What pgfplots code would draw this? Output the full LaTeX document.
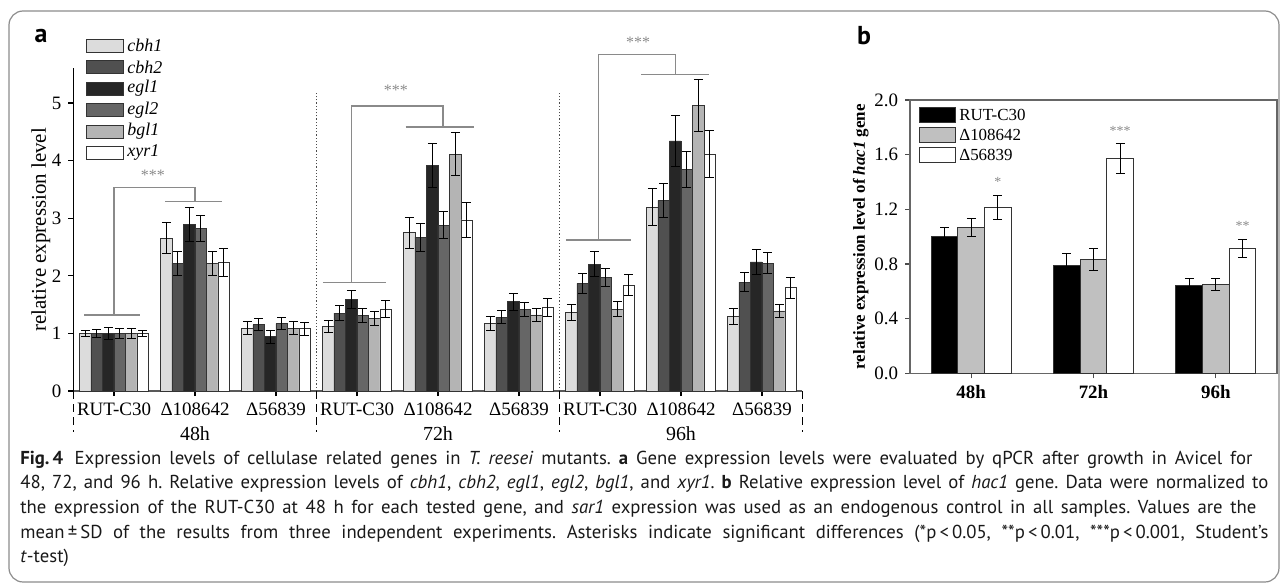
\documentclass[border=0pt]{standalone}
\usepackage{fontspec}
\setmainfont{Liberation Serif}
\newfontfamily\capfont{PT Sans}
\usepackage{pgfplots}
\pgfplotsset{compat=1.18}
\frenchspacing

\definecolor{gA}{HTML}{DCDCDC}
\definecolor{gB}{HTML}{505050}
\definecolor{gC}{HTML}{262626}
\definecolor{gD}{HTML}{666666}
\definecolor{gE}{HTML}{B4B4B4}
\definecolor{gF}{HTML}{FFFFFF}
\definecolor{bG}{HTML}{C0C0C0}
\definecolor{edge}{HTML}{333333}
\definecolor{brk}{HTML}{8A8A8A}

\pgfplotsset{
  eb/.style={error bars/.cd, y dir=both, y explicit,
    error bar style={black, line width=0.5bp},
    error mark options={rotate=90, mark size=2.2bp, black, line width=0.5bp}},
}

\begin{document}
\begin{tikzpicture}
\useasboundingbox (0bp,0bp) rectangle (642bp,-292bp);

% ---------- panel a ----------
\begin{axis}[
  at={(36.75bp,-195.5bp)}, anchor=south west,
  scale only axis, width=364.5bp, height=161.3bp,
  xmin=-0.5, xmax=8.5, ymin=0, ymax=5.6,
  axis x line*=bottom, axis y line*=left,
  x axis line style={-, line width=1.2bp, black!65},
  y axis line style={-, line width=0.8bp, black},
  xtick={0,...,8},
  xticklabels={RUT-C30,Δ108642,Δ56839,RUT-C30,Δ108642,Δ56839,RUT-C30,Δ108642,Δ56839},
  ytick={0,...,5},
  tick align=outside, major tick length=2.5bp,
  tick style={black, line width=0.6bp},
  ticklabel style={font=\fontsize{9.5}{10}\selectfont},
  /pgf/number format/assume math mode=true,
  ylabel={relative expression level},
  ylabel style={font=\fontsize{10.5}{11}\selectfont},
  ylabel shift=-6bp,
  ybar=0pt, bar width=5.75bp,
  clip=false,
]
\addplot[fill=gA, draw=edge, line width=0.4bp, eb] coordinates {
  (0,1.00) +- (0,0.05) (1,2.65) +- (0,0.27) (2,1.09) +- (0,0.11)
  (3,1.12) +- (0,0.11) (4,2.75) +- (0,0.27) (5,1.17) +- (0,0.12)
  (6,1.37) +- (0,0.14) (7,3.19) +- (0,0.32) (8,1.29) +- (0,0.14)};
\addplot[fill=gB, draw=edge, line width=0.4bp, eb] coordinates {
  (0,1.00) +- (0,0.07) (1,2.22) +- (0,0.21) (2,1.15) +- (0,0.10)
  (3,1.35) +- (0,0.13) (4,2.67) +- (0,0.24) (5,1.28) +- (0,0.11)
  (6,1.87) +- (0,0.17) (7,3.31) +- (0,0.30) (8,1.89) +- (0,0.17)};
\addplot[fill=gC, draw=edge, line width=0.4bp, eb] coordinates {
  (0,1.00) +- (0,0.10) (1,2.89) +- (0,0.30) (2,0.94) +- (0,0.11)
  (3,1.59) +- (0,0.15) (4,3.91) +- (0,0.38) (5,1.55) +- (0,0.15)
  (6,2.20) +- (0,0.22) (7,4.34) +- (0,0.44) (8,2.24) +- (0,0.22)};
\addplot[fill=gD, draw=edge, line width=0.4bp, eb] coordinates {
  (0,1.00) +- (0,0.08) (1,2.82) +- (0,0.23) (2,1.17) +- (0,0.10)
  (3,1.31) +- (0,0.12) (4,2.88) +- (0,0.23) (5,1.42) +- (0,0.12)
  (6,1.97) +- (0,0.16) (7,3.85) +- (0,0.31) (8,2.22) +- (0,0.18)};
\addplot[fill=gE, draw=edge, line width=0.4bp, eb] coordinates {
  (0,1.00) +- (0,0.09) (1,2.22) +- (0,0.21) (2,1.09) +- (0,0.11)
  (3,1.26) +- (0,0.12) (4,4.11) +- (0,0.37) (5,1.32) +- (0,0.12)
  (6,1.42) +- (0,0.13) (7,4.96) +- (0,0.45) (8,1.39) +- (0,0.12)};
\addplot[fill=gF, draw=edge, line width=0.4bp, eb] coordinates {
  (0,1.00) +- (0,0.05) (1,2.23) +- (0,0.24) (2,1.08) +- (0,0.11)
  (3,1.42) +- (0,0.15) (4,2.97) +- (0,0.30) (5,1.45) +- (0,0.15)
  (6,1.84) +- (0,0.18) (7,4.11) +- (0,0.41) (8,1.79) +- (0,0.18)};

% separators
\draw[densely dotted, black!70, line width=0.6bp] (axis cs:2.5,0) -- (axis cs:2.5,5.2);
\draw[densely dotted, black!70, line width=0.6bp] (axis cs:5.5,0) -- (axis cs:5.5,5.2);
\draw[dash pattern=on 4bp off 2.5bp, black, line width=0.6bp] (axis cs:-0.5,0) -- (axis cs:-0.5,-0.71);
\draw[dash pattern=on 4bp off 2.5bp, black, line width=0.6bp] (axis cs:2.5,0) -- (axis cs:2.5,-0.71);
\draw[dash pattern=on 4bp off 2.5bp, black, line width=0.6bp] (axis cs:5.5,0) -- (axis cs:5.5,-0.71);
\draw[dash pattern=on 4bp off 2.5bp, black, line width=0.6bp] (axis cs:8.5,0) -- (axis cs:8.5,-0.71);
\node[font=\fontsize{10}{10}\selectfont] at (axis cs:1,-0.74) {48h};
\node[font=\fontsize{10}{10}\selectfont] at (axis cs:4,-0.74) {72h};
\node[font=\fontsize{10}{10}\selectfont] at (axis cs:7,-0.74) {96h};

% significance brackets
\draw[brk, line width=0.7bp] (axis cs:-0.37,1.32) -- (axis cs:0.32,1.32);
\draw[brk, line width=0.7bp] (axis cs:0,1.32) -- (axis cs:0,3.53) -- (axis cs:1.0,3.53) -- (axis cs:1.0,3.29);
\draw[brk, line width=0.7bp] (axis cs:0.63,3.29) -- (axis cs:1.33,3.29);
\draw[brk, line width=0.7bp] (axis cs:2.58,1.88) -- (axis cs:3.36,1.88);
\draw[brk, line width=0.7bp] (axis cs:2.93,1.88) -- (axis cs:2.93,4.95) -- (axis cs:4.06,4.95) -- (axis cs:4.06,4.58);
\draw[brk, line width=0.7bp] (axis cs:3.6,4.58) -- (axis cs:4.44,4.58);
\draw[brk, line width=0.7bp] (axis cs:5.58,2.62) -- (axis cs:6.38,2.62);
\draw[brk, line width=0.7bp] (axis cs:5.98,2.62) -- (axis cs:5.98,5.84) -- (axis cs:6.93,5.84) -- (axis cs:6.93,5.49);
\draw[brk, line width=0.7bp] (axis cs:6.51,5.49) -- (axis cs:7.34,5.49);
\node[brk, font=\fontsize{8}{8}\selectfont] at (axis cs:0.48,3.74) {***};
\node[brk, font=\fontsize{8}{8}\selectfont] at (axis cs:3.48,5.22) {***};
\node[brk, font=\fontsize{8}{8}\selectfont] at (axis cs:6.47,6.06) {***};
\end{axis}

% ---------- panel b ----------
\begin{axis}[
  at={(455bp,-186.65bp)}, anchor=south west,
  scale only axis, width=183.5bp, height=136.65bp,
  xmin=-0.5, xmax=2.5, ymin=0, ymax=2.0,
  axis line style={black!60, line width=0.6bp},
  xtick={0,1,2}, xticklabels={48h,72h,96h},
  xticklabel style={font=\bfseries\fontsize{9.5}{10}\selectfont},
  ytick={0,0.4,0.8,1.2,1.6,2.0},
  yticklabel style={font=\fontsize{9.5}{10}\selectfont,
    /pgf/number format/fixed, /pgf/number format/fixed zerofill,
    /pgf/number format/precision=1},
  /pgf/number format/assume math mode=true,
  xtick pos=bottom, ytick pos=left,
  tick align=outside, major tick length=2.5bp,
  tick style={black!70, line width=0.6bp},
  ylabel={relative expression level of \textit{hac1} gene},
  ylabel style={font=\bfseries\fontsize{8.5}{9}\selectfont},
  ylabel shift=-4bp,
  ybar=0pt, bar width=13.33bp,
  clip=false,
]
\addplot[fill=black, draw=edge, line width=0.5bp, eb] coordinates {
  (0,1.000) +- (0,0.070) (1,0.790) +- (0,0.085) (2,0.644) +- (0,0.050)};
\addplot[fill=bG, draw=edge, line width=0.5bp, eb] coordinates {
  (0,1.065) +- (0,0.066) (1,0.834) +- (0,0.080) (2,0.651) +- (0,0.044)};
\addplot[fill=white, draw=edge, line width=0.5bp, eb] coordinates {
  (0,1.214) +- (0,0.085) (1,1.573) +- (0,0.110) (2,0.911) +- (0,0.066)};
\node[brk, font=\fontsize{7}{7}\selectfont] at (axis cs:0.218,1.40) {*};
\node[brk, font=\fontsize{7}{7}\selectfont] at (axis cs:1.218,1.77) {***};
\node[brk, font=\fontsize{7}{7}\selectfont] at (axis cs:2.218,1.08) {**};
\end{axis}

% ---------- frame, legends, caption (pixel units) ----------
\begin{scope}[x=0.5bp, y=-0.5bp]
\draw[black!45, line width=0.6bp, rounded corners=7bp] (9,11) rectangle (1279,582);
\node[font=\capfont\bfseries\fontsize{13}{13}\selectfont] at (41,36) {a};
\node[font=\capfont\bfseries\fontsize{13}{13}\selectfont] at (864,36) {b};

% legend a
\foreach \c/\t [count=\i from 0] in {gA/cbh1,gB/cbh2,gC/egl1,gD/egl2,gE/bgl1,gF/xyr1}{
  \draw[fill=\c, draw=edge, line width=0.4bp] (86,{45.5+21.5*\i-6.5}) rectangle (123,{45.5+21.5*\i+6.5});
  \node[anchor=west, inner sep=0, font=\itshape\fontsize{9}{9}\selectfont] at (127,{45.5+21.5*\i}) {\t};
}
% legend b
\foreach \c/\t [count=\i from 0] in {black/RUT-C30,bG/Δ108642,white/Δ56839}{
  \draw[fill=\c, draw=edge, line width=0.5bp] (920,{115+20*\i-7.5}) rectangle (956,{115+20*\i+7.5});
  \node[anchor=west, inner sep=0, font=\fontsize{8.5}{9}\selectfont] at (959,{115+20*\i}) {\t};
}

% caption
\begin{scope}[every node/.style={anchor=base west, inner sep=0, text=black!90,
    font=\capfont\fontsize{9.4}{11}\selectfont\frenchspacing}]
\node at (20,465) {\makebox[616bp][s]{\textbf{Fig.\,4}\hspace{0.6em}Expression levels of cellulase related genes in \textit{T. reesei} mutants. \textbf{a} Gene expression levels were evaluated by qPCR after growth in Avicel for}};
\node at (20,489) {\makebox[624bp][s]{48, 72, and 96 h. Relative expression levels of \textit{cbh1}, \textit{cbh2}, \textit{egl1}, \textit{egl2}, \textit{bgl1}, and \textit{xyr1}. \textbf{b} Relative expression level of \textit{hac1} gene. Data were normalized to}};
\node at (20,514) {\makebox[618bp][s]{the expression of the RUT-C30 at 48 h for each tested gene, and \textit{sar1} expression was used as an endogenous control in all samples. Values are the}};
\node at (20,539) {\makebox[624bp][s]{mean\,±\,SD of the results from three independent experiments. Asterisks indicate significant differences (*p\,<\,0.05, **p\,<\,0.01, ***p\,<\,0.001, Student’s}};
\node at (20,563) {\textit{t}-test)};
\end{scope}
\end{scope}
\end{tikzpicture}
\end{document}
